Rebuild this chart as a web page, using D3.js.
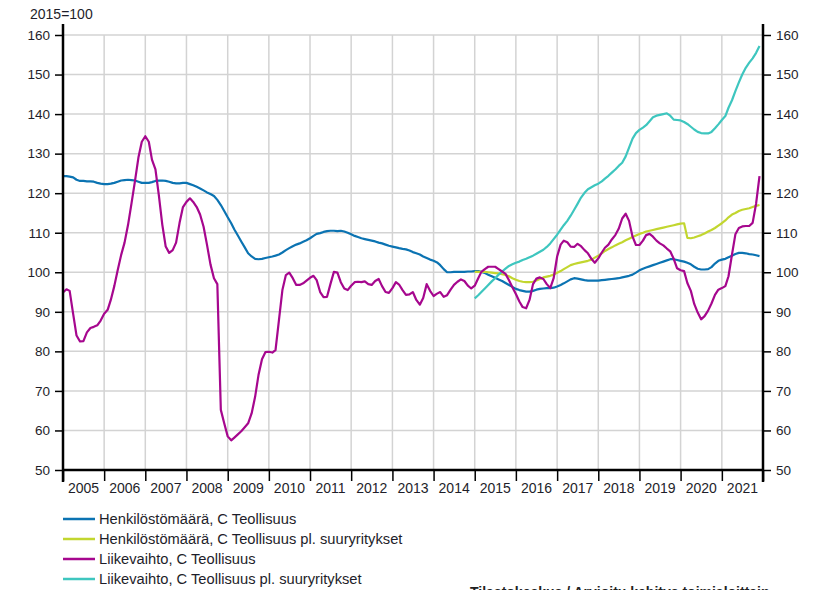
<!DOCTYPE html>
<html><head><meta charset="utf-8">
<script src="https://cdn.jsdelivr.net/npm/d3@7"></script>
<style>
html,body{margin:0;padding:0;background:#fff;}
svg{display:block;font-family:"Liberation Sans",Arial,sans-serif;}
</style></head>
<body><svg id="chart" width="828" height="590"></svg>
<script>
// ---- DATA ----
const years = ["2005","2006","2007","2008","2009","2010","2011","2012","2013","2014","2015","2016","2017","2018","2019","2020","2021"];
const yTicks = [50,60,70,80,90,100,110,120,130,140,150,160];
const startAll = "2005-01";
const startPl = "2015-01";
const seriesNames = ["Henkilöstömäärä, C Teollisuus","Henkilöstömäärä, C Teollisuus pl. suuryritykset","Liikevaihto, C Teollisuus","Liikevaihto, C Teollisuus pl. suuryritykset"];
const henk = [
124.3,124.3,124.2,124.0,123.4,123.1,123.1,123.0,123.0,122.9,122.6,122.4,
122.3,122.3,122.4,122.6,122.9,123.2,123.3,123.4,123.3,123.2,122.9,122.6,
122.6,122.6,122.8,123.1,123.2,123.2,123.1,122.9,122.6,122.5,122.5,122.6,
122.6,122.3,122.0,121.6,121.2,120.7,120.2,119.8,119.3,118.3,117.0,115.5,
113.9,112.4,110.8,109.3,107.8,106.3,104.8,104.0,103.4,103.3,103.4,103.6,
103.8,104.0,104.2,104.5,105.0,105.6,106.1,106.6,107.0,107.3,107.7,108.1,
108.6,109.2,109.7,109.9,110.2,110.4,110.5,110.5,110.4,110.5,110.3,110.0,
109.6,109.2,108.9,108.6,108.4,108.2,108.0,107.8,107.5,107.3,107.0,106.7,
106.5,106.3,106.1,105.9,105.8,105.5,105.1,104.8,104.5,104.0,103.6,103.2,
102.9,102.5,101.8,100.8,100.0,100.0,100.1,100.1,100.1,100.1,100.2,100.2,
100.3,100.3,100.1,99.8,99.4,99.0,98.6,98.2,97.8,97.3,96.8,96.3,
95.8,95.5,95.3,95.1,95.1,95.3,95.6,95.8,95.9,96.0,96.0,96.1,
96.4,96.8,97.2,97.7,98.2,98.5,98.4,98.2,98.0,97.9,97.9,97.9,
97.9,98.0,98.1,98.2,98.3,98.4,98.5,98.7,98.9,99.1,99.4,99.9,
100.5,100.9,101.2,101.5,101.8,102.1,102.4,102.7,103.0,103.3,103.3,103.1,
102.9,102.7,102.4,102.0,101.4,100.9,100.7,100.7,100.8,101.3,102.2,102.9,
103.2,103.4,103.8,104.2,104.6,104.9,104.9,104.8,104.6,104.5,104.3,104.1];
const henkPl = [
100.1,100.1,100.1,100.1,100.0,99.9,99.8,99.7,99.5,99.3,99.0,98.5,
98.1,97.8,97.6,97.5,97.5,97.6,97.9,98.3,98.7,98.9,99.1,99.4,
99.9,100.3,100.8,101.3,101.8,102.1,102.3,102.5,102.7,102.9,103.2,103.7,
104.2,104.8,105.4,105.9,106.3,106.8,107.2,107.6,108.1,108.5,108.9,109.3,
109.7,110.0,110.3,110.5,110.7,110.9,111.1,111.3,111.5,111.7,111.9,112.1,
112.3,112.4,108.7,108.6,108.8,109.1,109.4,109.8,110.3,110.7,111.2,111.8,
112.4,113.1,113.9,114.6,115.0,115.5,115.8,116.0,116.2,116.5,116.8,117.0];
const liike = [
94.9,95.7,95.3,89.5,84.0,82.5,82.6,84.8,85.9,86.2,86.6,87.8,
89.5,90.5,93.0,96.5,100.5,104.4,107.5,112.0,117.5,123.0,129.0,133.0,
134.4,133.0,128.5,126.0,119.5,112.0,106.5,104.9,105.6,107.5,112.5,116.5,
117.8,118.7,117.8,116.5,114.6,111.5,107.0,102.0,98.5,97.0,65.2,61.8,
58.5,57.5,58.2,59.0,59.8,60.8,61.8,64.3,68.5,74.0,78.0,79.8,
79.9,79.7,80.3,88.0,95.5,99.3,99.9,98.5,96.8,96.8,97.2,97.9,
98.6,99.1,98.0,95.0,93.7,93.8,97.0,100.1,99.9,97.5,95.9,95.5,
96.6,97.5,97.6,97.5,97.7,97.0,96.8,97.8,98.3,96.5,95.0,94.8,
96.0,97.5,96.9,95.5,94.3,94.4,95.0,93.0,91.8,93.5,97.0,95.3,
94.0,94.6,95.0,93.8,94.2,95.6,96.8,97.6,98.2,97.8,96.6,95.9,
96.6,98.5,100.1,100.8,101.4,101.4,101.4,100.8,100.2,99.6,98.0,96.2,
94.5,92.6,91.2,90.9,93.0,97.0,98.4,98.7,98.3,97.0,96.0,98.5,
104.0,107.0,108.0,107.6,106.5,106.4,107.2,106.6,105.6,104.8,103.4,102.4,
103.5,105.0,106.2,107.0,108.3,109.4,111.0,113.6,114.8,113.0,109.0,106.9,
106.9,108.0,109.4,109.7,109.0,108.0,107.3,106.8,106.0,105.3,103.4,101.0,
100.5,100.3,97.3,95.3,92.0,89.8,88.1,88.9,90.3,92.1,94.3,95.6,
96.0,96.5,99.0,104.5,109.6,111.2,111.6,111.7,111.7,112.5,117.4,124.3];
const liikePl = [
93.4,94.2,95.0,95.9,96.8,97.7,98.5,99.4,100.2,100.9,101.6,102.0,
102.4,102.7,103.1,103.4,103.8,104.2,104.7,105.2,105.7,106.4,107.3,108.4,
109.5,110.8,111.9,113.0,114.3,115.8,117.3,118.9,120.1,121.0,121.5,122.0,
122.4,123.0,123.7,124.4,125.2,126.0,126.9,127.7,129.3,131.5,133.8,135.2,
136.0,136.6,137.2,138.2,139.2,139.6,139.8,140.0,140.2,139.6,138.6,138.5,
138.4,138.0,137.5,136.8,136.1,135.5,135.2,135.1,135.1,135.5,136.4,137.4,
138.5,139.5,141.6,143.5,145.8,148.0,150.0,151.7,153.0,154.1,155.5,157.2];
const yUnit = "2015=100";
const sourceText = "Tilastokeskus / Arvioitu kehitys toimialoittain";

// ---- CHART ----
const colors = ["#0b73b2","#c2d62f","#a6078e","#3ec6bf"];
const svg = d3.select("#chart");
const L = 63, R = 763, T = 35, B = 470;
const parse = d3.timeParse("%Y-%m");
const x = d3.scaleTime().domain([new Date(+years[0],0,1), new Date(+years[years.length-1]+1,0,1)]).range([L,R]);
const y = d3.scaleLinear().domain([50,160]).range([B,T]);

function toPoints(start, vals){
  const s = parse(start);
  return vals.map((v,i)=>({d:d3.timeMonth.offset(s,i), v}));
}
const data = [toPoints(startAll,henk), toPoints(startPl,henkPl), toPoints(startAll,liike), toPoints(startPl,liikePl)];

const yearDates = years.map(yr=>new Date(+yr,0,1)).concat([new Date(+years[years.length-1]+1,0,1)]);

// grid
const grid = svg.append("g").attr("stroke","#d3d3d3").attr("stroke-width",1.5);
grid.selectAll("line.h").data(yTicks.filter(t=>t>50)).join("line")
  .attr("x1",L).attr("x2",R).attr("y1",d=>y(d)).attr("y2",d=>y(d));
grid.selectAll("line.v").data(yearDates.slice(1,-1)).join("line")
  .attr("x1",d=>x(d)).attr("x2",d=>x(d)).attr("y1",T).attr("y2",B);

// series
const line = d3.line().x(d=>x(d.d)).y(d=>y(d.v));
const drawOrder = [0,1,3,2];
svg.append("g").selectAll("path").data(drawOrder).join("path")
  .attr("d",i=>line(data[i])).attr("fill","none").attr("stroke",i=>colors[i])
  .attr("stroke-width",2.2).attr("stroke-linejoin","round");

// axes
const axisY1 = d3.axisLeft(y).tickValues(yTicks).tickSize(8).tickPadding(5);
const axisY2 = d3.axisRight(y).tickValues(yTicks).tickSize(8).tickPadding(5);
const gl = svg.append("g").attr("transform",`translate(${L},0)`).call(axisY1);
const gr = svg.append("g").attr("transform",`translate(${R},0)`).call(axisY2);
const axisX = d3.axisBottom(x).tickValues(yearDates).tickSize(11).tickFormat("");
const gx = svg.append("g").attr("transform",`translate(0,${B})`).call(axisX);
[gl,gr,gx].forEach(g=>{
  g.select(".domain").remove();
  g.selectAll(".tick line").attr("stroke","#000").attr("stroke-width",1.5);
  g.selectAll("text").attr("font-size",13.5).attr("fill","#1e1e2a").attr("font-family","Liberation Sans, Arial, sans-serif");
});
// axis lines
svg.append("line").attr("x1",L).attr("x2",L).attr("y1",24).attr("y2",482).attr("stroke","#000").attr("stroke-width",2.5);
svg.append("line").attr("x1",R).attr("x2",R).attr("y1",24).attr("y2",482).attr("stroke","#000").attr("stroke-width",2.5);
svg.append("line").attr("x1",L).attr("x2",R).attr("y1",B).attr("y2",B).attr("stroke","#000").attr("stroke-width",2.5);

// year labels
svg.append("g").selectAll("text").data(years).join("text")
  .attr("x",(d,i)=>(x(yearDates[i])+x(yearDates[i+1]))/2).attr("y",492.5)
  .attr("text-anchor","middle").attr("font-size",14).attr("fill","#1e1e2a").text(d=>d);

// unit
svg.append("text").attr("x",30).attr("y",19).attr("font-size",14).attr("fill","#1e1e2a").text(yUnit);

// legend
const lg = svg.append("g").selectAll("g").data(seriesNames).join("g")
  .attr("transform",(d,i)=>`translate(63,${519+i*20})`);
lg.append("line").attr("x1",0).attr("x2",32).attr("stroke",(d,i)=>colors[i]).attr("stroke-width",2.5);
lg.append("text").attr("x",36).attr("y",5).attr("font-size",14.7).attr("fill","#1e1e2a").text(d=>d);

// source (cut off at bottom, as in the reference)
svg.append("text").attr("x",470).attr("y",597).attr("font-size",14).attr("font-weight","bold").attr("fill","#222").text(sourceText);
</script></body></html>
